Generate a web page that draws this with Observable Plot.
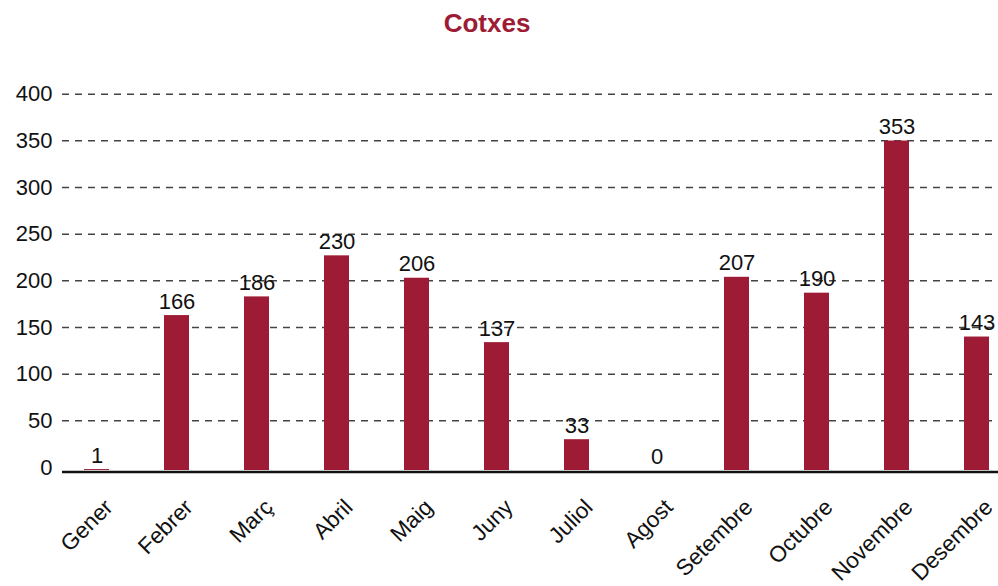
<!DOCTYPE html>
<html>
<head>
<meta charset="utf-8">
<script src="https://cdn.jsdelivr.net/npm/d3@7"></script>
<script src="https://cdn.jsdelivr.net/npm/@observablehq/plot@0.6"></script>
<style>
  html, body { margin: 0; padding: 0; background: #fff; }
  #title {
    height: 44px; box-sizing: border-box; padding-top: 8px; padding-right: 24px;
    font: bold 26px "Liberation Sans", Arial, sans-serif; line-height: 30px;
    color: #9d1b34; text-align: center; width: 998px;
  }
  svg { overflow: visible; display: block; }
</style>
</head>
<body>
<div id="title">Cotxes</div>
<div id="chart"></div>
<script>
const months = ["Gener", "Febrer", "Març", "Abril", "Maig", "Juny", "Juliol", "Agost", "Setembre", "Octubre", "Novembre", "Desembre"];
const values = [1, 166, 186, 230, 206, 137, 33, 0, 207, 190, 353, 143];
const yTicks = [0, 50, 100, 150, 200, 250, 300, 350, 400];

const data = months.map((m, i) => ({month: m, value: values[i]}));

const chart = Plot.plot({
  width: 998,
  height: 542,
  marginLeft: 62,
  marginRight: 0,
  marginTop: 40,
  marginBottom: 116,
  x: {domain: months, range: [29, 1044], padding: 0.6875, label: null},
  y: {domain: [0, 400], range: [426, 52.67], label: null},
  style: {fontFamily: '"Liberation Sans", Arial, sans-serif', fontSize: "22px", color: "#111", background: "#fff"},
  marks: [
    Plot.gridY(yTicks.filter(d => d > 0), {stroke: "#444", strokeOpacity: 1, strokeDasharray: "7,6", strokeWidth: 1.5, dy: -3}),
    Plot.axisY(yTicks, {tickSize: 0, tickPadding: 10, dy: -3, fontSize: 22, label: null}),
    Plot.barY(data, {x: "month", y: "value", fill: "#9d1b34"}),
    Plot.ruleY([0], {stroke: "#111", strokeWidth: 2.5, dy: 1.5}),
    Plot.text(data, {x: "month", y: "value", text: d => String(d.value), lineAnchor: "bottom", dy: -7, fontSize: 22, fill: "#111"}),
    Plot.axisX({tickSize: 0, tickPadding: 0, tickRotate: -45, dx: 12, dy: 33, fontSize: 22.5, label: null})
  ]
});
document.getElementById("chart").appendChild(chart);
</script>
</body>
</html>
